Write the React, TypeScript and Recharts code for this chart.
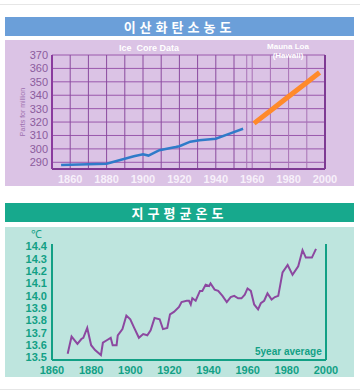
import React from 'react';
import { LineChart, Line, XAxis, YAxis, ReferenceLine } from 'recharts';

// CO2 concentration (ppm)
const co2Ticks = [290, 300, 310, 320, 330, 340, 350, 360, 370];
const co2YearTicks = [1860, 1880, 1900, 1920, 1940, 1960, 1980, 2000];
const co2GridYears = [1860, 1870, 1880, 1890, 1900, 1910, 1920, 1930, 1940, 1950, 1957, 1960, 1970, 1980, 1990];
const iceCoreYears = [1855, 1880, 1895, 1900, 1903, 1909, 1918, 1920, 1926, 1931, 1940, 1948, 1955];
const iceCorePpm = [288, 289, 294.5, 296, 295, 299, 301.4, 302, 305.4, 306.4, 307.6, 311.6, 315];
const maunaLoaYears = [1961, 1970, 1980, 1990, 1997];
const maunaLoaPpm = [319, 328.5, 339, 349.5, 357];

// Global mean temperature (5 year average)
const tempTicks = [13.5, 13.6, 13.7, 13.8, 13.9, 14.0, 14.1, 14.2, 14.3, 14.4];
const tempYearTicks = [1860, 1880, 1900, 1920, 1940, 1960, 1980, 2000];
const tempYears = [
  1868, 1870, 1873, 1875, 1876, 1878, 1880, 1882, 1885, 1886, 1888, 1890, 1891, 1893, 1893.6, 1896,
  1898, 1900, 1902, 1904.4, 1906.6, 1908.7, 1910.4, 1912.4, 1915, 1916.7, 1918.9, 1920.3, 1922.3, 1924.9,
  1926.2, 1928.8, 1930, 1930.9, 1931.7, 1933.4, 1935.6, 1936.8, 1938.5, 1940.3, 1941, 1943.1, 1944.9,
  1947.1, 1949.3, 1951.3, 1953.1, 1955.1, 1956.8, 1958.5, 1959.9, 1961.6, 1963.3, 1965.3, 1966.7, 1968.4,
  1970.1, 1972.2, 1973.9, 1975.6, 1977.8, 1980.4, 1982.9, 1985.8, 1988, 1989.7, 1992.8, 1994.9,
];
const tempValues = [
  13.53, 13.67, 13.61, 13.65, 13.66, 13.74, 13.6, 13.56, 13.52, 13.62, 13.64, 13.66, 13.6, 13.6, 13.68, 13.73,
  13.84, 13.81, 13.74, 13.66, 13.69, 13.68, 13.72, 13.82, 13.81, 13.73, 13.74, 13.85, 13.87, 13.91,
  13.95, 13.96, 13.96, 13.93, 13.98, 13.96, 14.04, 14.04, 14.09, 14.08, 14.1, 14.05, 14.04,
  14.0, 13.95, 13.99, 14.0, 13.98, 13.98, 14.01, 14.06, 14.04, 13.93, 13.89, 13.94, 13.96,
  14.02, 13.97, 13.99, 14.0, 14.19, 14.25, 14.17, 14.24, 14.37, 14.31, 14.31, 14.38,
];

const iceCore = iceCoreYears.map((year, i) => ({ year, ppm: iceCorePpm[i] }));
const maunaLoa = maunaLoaYears.map((year, i) => ({ year, ppm: maunaLoaPpm[i] }));
const temps = tempYears.map((year, i) => ({ year, temp: tempValues[i] }));

const FONT = '"Liberation Sans", Arial, sans-serif';
const KFONT = '"Noto Sans CJK KR", sans-serif';
const PURPLE = '#8c48a0';
const TEAL = '#12a085';

const abs = (left: number, top: number, extra: React.CSSProperties = {}): React.CSSProperties => ({
  position: 'absolute',
  left,
  top,
  ...extra,
});

const header = (top: number, bg: string): React.CSSProperties =>
  abs(5, top, {
    width: 349,
    height: 19,
    background: bg,
    color: '#fff',
    fontFamily: KFONT,
    fontWeight: 'bold',
    fontSize: 13,
    letterSpacing: 4,
    lineHeight: '19px',
    textAlign: 'center',
  });

const App: React.FC = () => {
  return (
    <div style={abs(0, 0, { width: 360, height: 391, background: '#fff', overflow: 'hidden', fontFamily: FONT })}>
      <div style={abs(0, 4, { width: 360, height: 1, background: '#e6e6e6' })} />
      <div style={abs(0, 389, { width: 360, height: 1, background: '#e6e6e6' })} />

      {/* CO2 chart */}
      <div style={header(17, '#6b9fd9')}>이산화탄소농도</div>
      <div style={abs(5, 40, { width: 349, height: 146, background: '#dbc3e5' })}>
        <LineChart width={349} height={146} margin={{ top: 15, right: 29, left: 0, bottom: 0 }}>
          <XAxis
            type="number"
            dataKey="year"
            domain={[1850, 2000]}
            ticks={co2YearTicks}
            interval={0}
            allowDataOverflow
            height={17}
            axisLine={{ stroke: '#7e3a93', strokeWidth: 2 }}
            tickLine={false}
            tickSize={4}
            tickMargin={2}
            tick={{ fill: '#f7f0fa', fontSize: 11, fontWeight: 'bold', fontFamily: FONT }}
          />
          <YAxis
            type="number"
            domain={[285, 370]}
            ticks={co2Ticks}
            interval={0}
            width={47}
            axisLine={{ stroke: '#8a3b9e', strokeWidth: 2 }}
            tickLine={false}
            tickSize={2}
            tickMargin={2}
            tick={{ fill: '#8b5b9d', fontSize: 11, fontFamily: FONT }}
          />
          {co2Ticks.map((v) => (
            <ReferenceLine key={`h${v}`} y={v} stroke="#9a58ac" strokeWidth={1} />
          ))}
          {co2GridYears.map((v) => (
            <ReferenceLine key={`v${v}`} x={v} stroke={v > 1955 ? '#a872b6' : '#8a4a9e'} strokeWidth={1} />
          ))}
          <ReferenceLine x={2000} stroke="#7e3a93" strokeWidth={2} />
          <Line data={iceCore} dataKey="ppm" stroke="#2f7bc9" strokeWidth={2.5} dot={false} isAnimationActive={false} />
          <Line data={maunaLoa} dataKey="ppm" stroke="#ff8a2b" strokeWidth={5} dot={false} isAnimationActive={false} />
        </LineChart>
      </div>
      <div style={abs(23 - 40, 112 - 5, { width: 80, height: 10, transform: 'rotate(-90deg)', textAlign: 'center', fontSize: 7, lineHeight: '10px', color: '#9b6fae' })}>
        Parts for million
      </div>
      <div style={abs(109, 43, { width: 80, textAlign: 'center', color: '#fff', fontWeight: 'bold', fontSize: 9, lineHeight: '11px' })}>
        Ice&nbsp;&nbsp;Core Data
      </div>
      <div style={abs(248, 42, { width: 80, textAlign: 'center', color: '#fff', fontWeight: 'bold', fontSize: 8, lineHeight: '9px' })}>
        Mauna Loa
        <br />
        (Hawaii)
      </div>

      {/* Temperature chart */}
      <div style={header(203, '#17a98d')}>지구평균온도</div>
      <div style={abs(5, 227, { width: 349, height: 150, background: '#bee5de' })}>
        <LineChart width={349} height={150} margin={{ top: 17, right: 28, left: 0, bottom: 0 }}>
          <XAxis
            type="number"
            dataKey="year"
            domain={[1860, 2000]}
            ticks={tempYearTicks}
            interval={0}
            height={17}
            axisLine={{ stroke: TEAL, strokeWidth: 2 }}
            tickLine={false}
            tickSize={4}
            tickMargin={2}
            tick={{ fill: TEAL, fontSize: 11, fontWeight: 'bold', fontFamily: FONT }}
          />
          <YAxis
            type="number"
            domain={[13.48, 14.42]}
            ticks={tempTicks}
            interval={0}
            width={47}
            axisLine={{ stroke: TEAL, strokeWidth: 2 }}
            tickLine={false}
            tickSize={2}
            tickMargin={3}
            tickFormatter={(v: number) => v.toFixed(1)}
            tick={{ fill: TEAL, fontSize: 11, fontWeight: 'bold', fontFamily: FONT }}
          />
          <ReferenceLine x={2000} stroke={TEAL} strokeWidth={2} />
          <Line data={temps} dataKey="temp" stroke={PURPLE} strokeWidth={2} dot={false} isAnimationActive={false} />
        </LineChart>
      </div>
      <div style={abs(31, 229, { fontSize: 11, color: TEAL, lineHeight: '11px' })}>℃</div>
      <div style={abs(255, 346, { fontSize: 10, fontWeight: 'bold', color: TEAL, lineHeight: '11px' })}>5year average</div>
    </div>
  );
};

export default App;
